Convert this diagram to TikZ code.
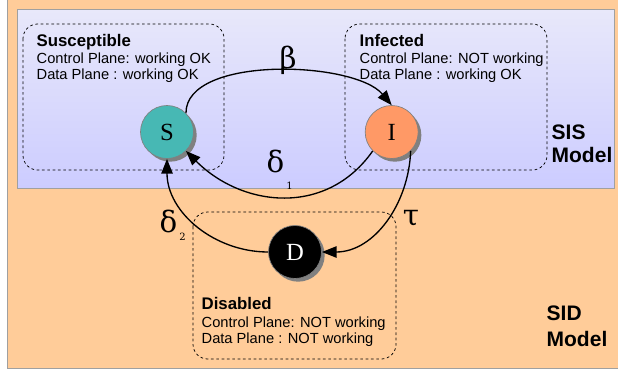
\documentclass[tikz,border=0pt]{standalone}
\usepackage{fontspec}
\setmainfont{Liberation Sans}
\newfontfamily\greekfont{DejaVu Serif}
\newfontfamily\letterfont{Liberation Serif}
\usepackage{xcolor}
\usetikzlibrary{arrows.meta}
\usetikzlibrary{positioning,shapes,shadows}
\definecolor{sidbg}{HTML}{FFCC99}
\definecolor{sistop}{HTML}{E8E8FA}
\definecolor{sisbot}{HTML}{CCCCFF}
\definecolor{suscol}{HTML}{47B8B4}
\definecolor{infcol}{HTML}{FF9966}
\definecolor{rimgray}{HTML}{808080}
\definecolor{framegray}{HTML}{A0A0A0}
\tikzset{
  statenode/.style={circle, draw=rimgray, line width=0.5pt, minimum size=39.75pt, inner sep=0pt,
    font=\letterfont\fontsize{18.5}{18.5}\selectfont,
    drop shadow={shadow xshift=2.4pt, shadow yshift=-2.4pt, fill=rimgray, opacity=1}},
  ratelabel/.style={inner sep=0pt, font=\greekfont\fontsize{22}{22}\selectfont},
  titletext/.style={anchor=base west, inner sep=0pt, font=\bfseries\fontsize{12.6}{14}\selectfont},
  planetext/.style={anchor=base west, inner sep=0pt, font=\fontsize{11}{13}\selectfont},
  modeltext/.style={anchor=base west, inner sep=0pt, font=\bfseries\fontsize{15.75}{17}\selectfont},
  groupbox/.style={draw, line width=0.55pt, dash pattern=on 2pt off 2pt, rounded corners=11pt}
}
\newcommand{\subdigit}[2]{\hspace{1.5pt}\raisebox{-#1}{\fontsize{7.5}{7.5}\selectfont #2}}

\begin{document}
\begin{tikzpicture}[x=0.75pt, y=-0.75pt,
        >={Triangle[length=11pt, width=8.5pt]},
        line width=1pt
      ]
      \useasboundingbox (0,0) rectangle (618,371);
      \fill[white] (0,0) rectangle (618,371);
      \draw[fill=sidbg, draw=framegray, line width=0.6pt] (7,-3) rectangle (622,368);
      \shade[top color=sistop, bottom color=sisbot] (17,9) rectangle (614,188);
      \draw[framegray, line width=0.6pt] (17,9) rectangle (614,188);
      \draw[groupbox] (23,24) rectangle (224,170);
      \draw[groupbox] (345,24) rectangle (547,170);
      \draw[groupbox] (193,212) rectangle (396,359);
      \node [statenode] (S) [fill=suscol] at (167,132) {S};
      \node [statenode] (I) [fill=infcol, right=128.25pt of S] {I};
      \node [statenode] (D) [fill=black, text=white] at (295,252) {D};
      \node [titletext] (Stitle) at (36,46) {Susceptible};
      \node [planetext] (Scp) at (36,63) {Control Plane: working OK};
      \node [planetext] (Sdp) at (36,79) {Data Plane : working OK};
      \node [titletext] (Ititle) at (359,46) {Infected};
      \node [planetext] (Icp) at (359,63) {Control Plane: NOT working};
      \node [planetext] (Idp) at (359,79) {Data Plane : working OK};
      \node [titletext] (Dtitle) at (201,309) {Disabled};
      \node [planetext] (Dcp) at (201,327) {Control Plane: NOT working};
      \node [planetext] (Ddp) at (201,343) {Data Plane : NOT working};
      \node [modeltext] (SIS1) at (551,139) {SIS};
      \node [modeltext] (SIS2) at (551,162) {Model};
      \node [modeltext] (SID1) at (546,320) {SID};
      \node [modeltext] (SID2) at (546,346) {Model};
      \node [ratelabel] (beta) at (288,60) {β};
      \node [ratelabel, anchor=base west] (delta1) at (266,172) {δ\subdigit{13pt}{1}};
      \node [ratelabel, anchor=base west] (delta2) at (159,232) {δ\subdigit{6.5pt}{2}};
      \node [ratelabel] (tau) at (411,218) {τ};
      \path [draw] (S.45) edge[->, out=90, in=130, looseness=0.72] (I.north)
      (I.225) edge[->, out=-125, in=-45, looseness=1.1] (S.-45)
      (I.-45) edge[->, out=-92, in=0] (D.east)
      (D.west) edge[->, out=180, in=-90] (S.south);
    \end{tikzpicture}
\end{document}
